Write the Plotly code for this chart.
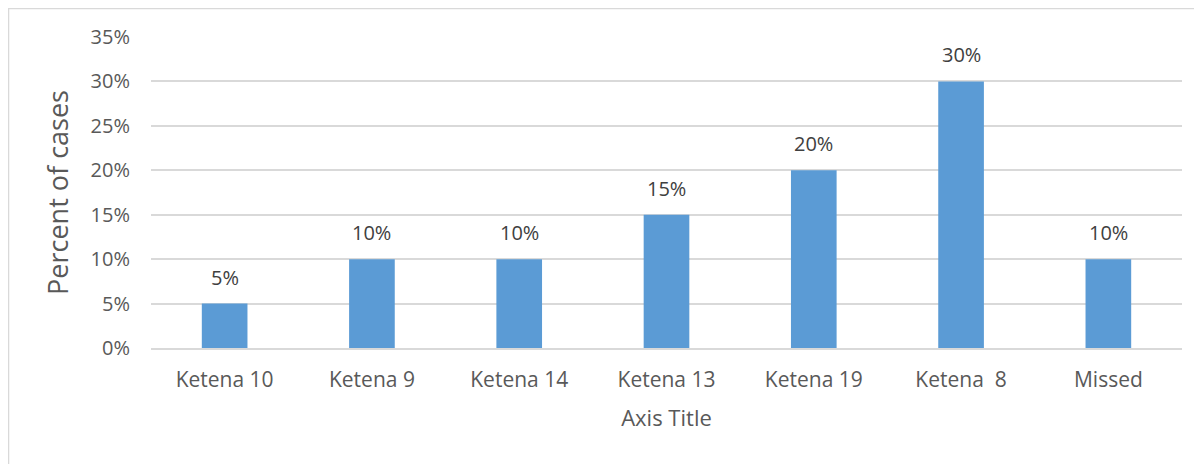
import plotly.graph_objects as go

# chart data
categories = ['Ketena 10', 'Ketena 9', 'Ketena 14', 'Ketena 13', 'Ketena 19', 'Ketena  8', 'Missed']
percent_cases = [0.05, 0.10, 0.10, 0.15, 0.20, 0.30, 0.10]
bar_labels = ['5%', '10%', '10%', '15%', '20%', '30%', '10%']

FONT = 'Open Sans'
fig = go.Figure()

fig.add_trace(go.Bar(x=categories, y=percent_cases,
                     marker=dict(color='#5B9BD5', line=dict(width=0)),
                     hoverinfo='skip'))

# data labels above each bar
for cat, val, lab in zip(categories, percent_cases, bar_labels):
    fig.add_annotation(x=cat, y=val, text=lab, showarrow=False,
                       yanchor='bottom', yshift=11,
                       font=dict(family=FONT, size=20, color='#404040'))

# light chart border (only top and left edges are in view)
fig.add_shape(type='rect', xref='paper', yref='paper',
              x0=-0.1382, x1=1.05, y0=-0.5, y1=1.0916,
              line=dict(color='#D9D9D9', width=1.5), fillcolor='rgba(0,0,0,0)', layer='below')

# page body has an 8px margin, so the figure is 8px smaller than the window
fig.update_layout(
    width=1194, height=456,
    margin=dict(l=143, r=20, t=29, b=116),
    paper_bgcolor='white', plot_bgcolor='white',
    bargap=0.69,
    showlegend=False,
    font=dict(family=FONT, color='#595959'),
    xaxis=dict(title=dict(text='Axis Title', font=dict(size=22, color='#595959'), standoff=19),
               tickfont=dict(size=21, color='#595959'),
               showline=True, linecolor='#D9D9D9', linewidth=1.5,
               ticks='', ticklabelstandoff=12, showgrid=False),
    yaxis=dict(title=dict(text='Percent of cases', font=dict(size=27, color='#595959'), standoff=14),
               tickfont=dict(size=20, color='#595959'),
               range=[0, 0.35], dtick=0.05, tickformat='.0%',
               showgrid=True, gridcolor='#D9D9D9', gridwidth=1.5,
               zeroline=False, showline=False, ticks='', ticklabelstandoff=20),
)

fig.write_html("out.html")
